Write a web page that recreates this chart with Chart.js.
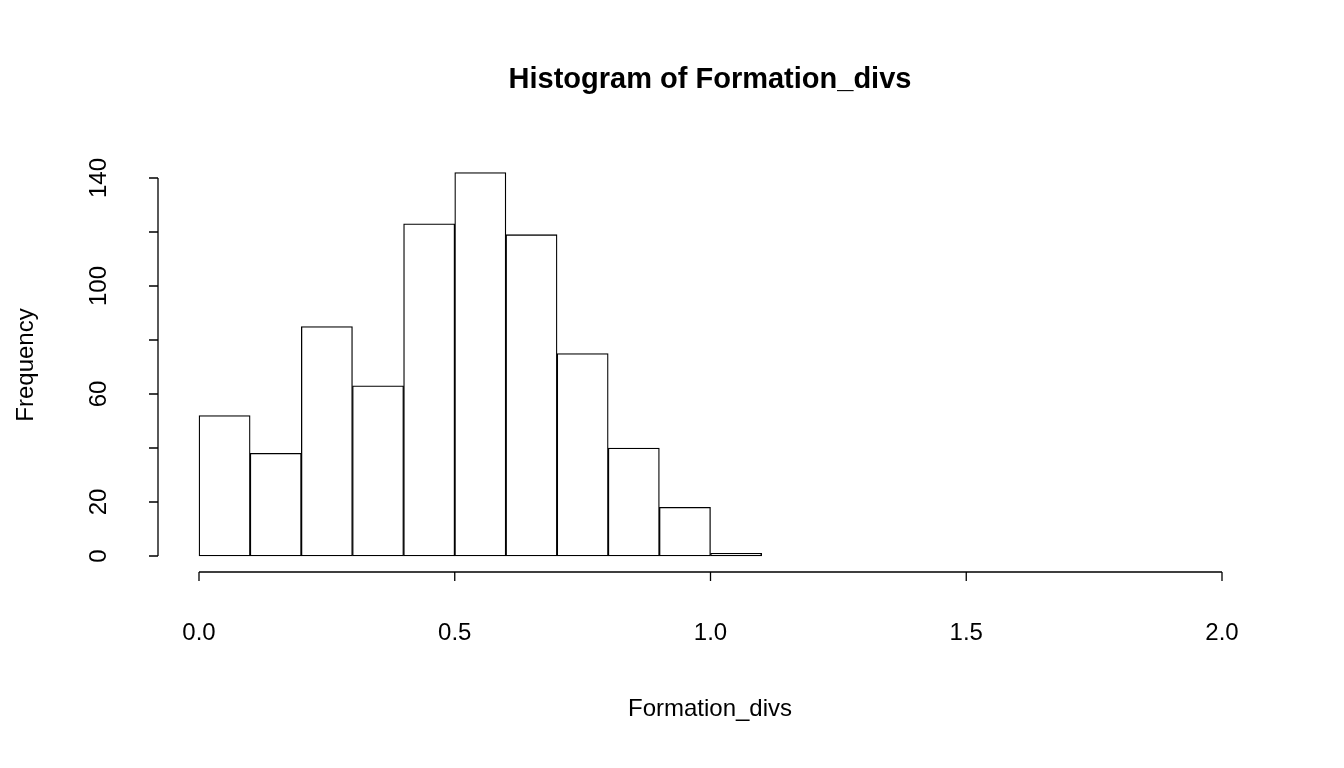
<!DOCTYPE html>
<html><head><meta charset="utf-8">
<script src="https://cdn.jsdelivr.net/npm/chart.js@4"></script>
<style>body{margin:0;background:#fff}canvas{display:block}</style>
</head><body>
<canvas id="c" width="1344" height="768"></canvas>
<script>
const binStarts = [0.0,0.1,0.2,0.3,0.4,0.5,0.6,0.7,0.8,0.9,1.0];
const binWidth = 0.1;
const counts = [52,38,85,63,123,142,119,75,40,18,1];
const xTicks = [0,0.5,1.0,1.5,2.0];
const xTickLabels = ["0.0","0.5","1.0","1.5","2.0"];
const yTicks = [0,20,40,60,80,100,120,140];
const yTickLabels = ["0","20","","60","","100","","140"];
const FONT = "'Liberation Sans', Arial, sans-serif";

const axesPlugin = {
  id:'rAxes',
  afterDraw(chart){
    const ctx = chart.ctx, xs = chart.scales.x, ys = chart.scales.y;
    ctx.save();
    ctx.strokeStyle='#000'; ctx.fillStyle='#000'; ctx.lineWidth=1.3;
    const ax = 158;
    ctx.beginPath();
    ctx.moveTo(ax, ys.getPixelForValue(yTicks[0]));
    ctx.lineTo(ax, ys.getPixelForValue(yTicks[yTicks.length-1]));
    yTicks.forEach(v=>{const p=ys.getPixelForValue(v);ctx.moveTo(ax,p);ctx.lineTo(ax-9,p);});
    ctx.stroke();
    ctx.font = "24px "+FONT; ctx.textAlign='center'; ctx.textBaseline='middle';
    yTicks.forEach((v,i)=>{ if(!yTickLabels[i]) return; const p=ys.getPixelForValue(v);
      ctx.save(); ctx.translate(99,p); ctx.rotate(-Math.PI/2); ctx.fillText(yTickLabels[i],0,0); ctx.restore();});
    const ay = 572;
    ctx.beginPath();
    ctx.moveTo(xs.getPixelForValue(xTicks[0]), ay);
    ctx.lineTo(xs.getPixelForValue(xTicks[xTicks.length-1]), ay);
    xTicks.forEach(v=>{const p=xs.getPixelForValue(v);ctx.moveTo(p,ay);ctx.lineTo(p,ay+9);});
    ctx.stroke();
    xTicks.forEach((v,i)=>ctx.fillText(xTickLabels[i], xs.getPixelForValue(v), 633));
    ctx.fillText("Formation_divs", 710, 709);
    ctx.save(); ctx.translate(26,365); ctx.rotate(-Math.PI/2); ctx.fillText("Frequency",0,0); ctx.restore();
    ctx.font = "bold 29px "+FONT;
    ctx.fillText("Histogram of Formation_divs", 710, 80);
    ctx.restore();
  }
};

new Chart(document.getElementById('c'), {
  type:'bar',
  data:{ datasets:[{
    data: binStarts.map((s,i)=>({x:s+binWidth/2, y:counts[i]})),
    backgroundColor:'#fff', borderColor:'#000', borderWidth:1.3, borderSkipped:false,
    barPercentage:1, categoryPercentage:1, clip:false
  }]},
  options:{
    responsive:false, animation:false, devicePixelRatio:1,
    layout:{padding:{left:199,right:122,top:178,bottom:212}},
    plugins:{legend:{display:false},tooltip:{enabled:false}},
    scales:{
      x:{type:'linear',min:0,max:2,display:false,offset:false},
      y:{min:0,max:140,display:false}
    }
  },
  plugins:[axesPlugin]
});
</script>
</body></html>
